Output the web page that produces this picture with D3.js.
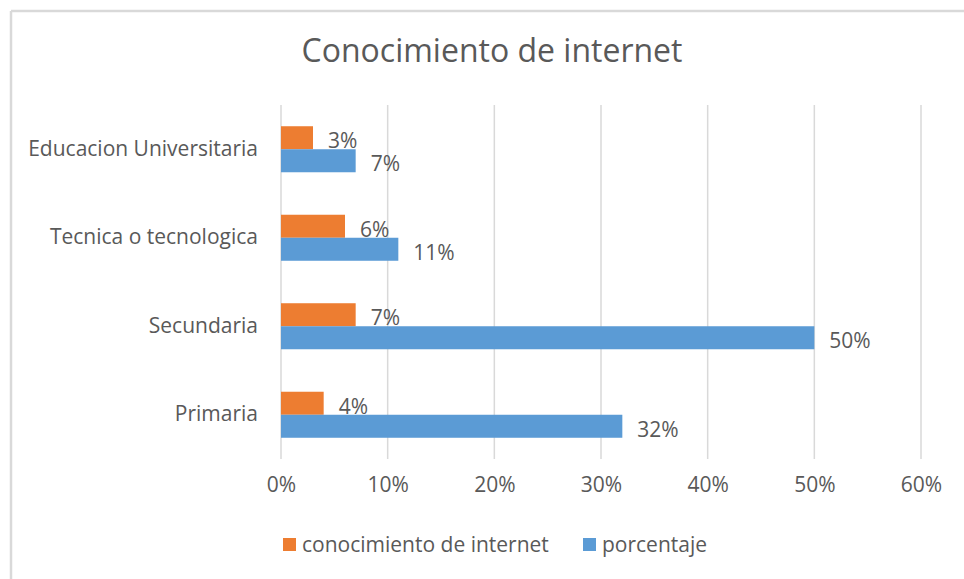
<!DOCTYPE html>
<html>
<head>
<meta charset="utf-8">
<script src="https://cdn.jsdelivr.net/npm/d3@7"></script>
<style>
	body { margin: 0; background: #fff; }
	text { font-family: "Open Sans", sans-serif; fill: #595959; }
</style>
</head>
<body>
<div class="chart"></div>
<script>
// data
var categories = ["Educacion Universitaria", "Tecnica o tecnologica", "Secundaria", "Primaria"];
var seriesNames = ["conocimiento de internet", "porcentaje"];
var conocimiento = [3, 6, 7, 4];
var porcentaje = [7, 11, 50, 32];
var xTicks = [0, 10, 20, 30, 40, 50, 60];
var colors = ["#ED7D31", "#5B9BD5"];

var width = 964,
	height = 579;
var margin = { top: 105, right: 43, bottom: 120, left: 281 };

var svg = d3.select(".chart").append("svg")
	.attr("width", width)
	.attr("height", height);

// chart border (left + top only visible)
svg.append("line").attr("x1", 11).attr("x2", 11).attr("y1", 11).attr("y2", height)
	.attr("stroke", "#d9d9d9").attr("stroke-width", 2.5);
svg.append("line").attr("x1", 11).attr("x2", width).attr("y1", 11).attr("y2", 11)
	.attr("stroke", "#d9d9d9").attr("stroke-width", 2.5);

// title
svg.append("text")
	.attr("x", 492)
	.attr("y", 62)
	.attr("text-anchor", "middle")
	.style("font-size", "32px")
	.text("Conocimiento de internet");

var xScale = d3.scaleLinear().domain([0, 60]).range([margin.left, width - margin.right]);
var yScale = d3.scaleBand().domain(categories).range([margin.top, height - margin.bottom]).paddingInner(0.48).paddingOuter(0.24);
var sub = d3.scaleBand().domain(seriesNames).range([0, yScale.bandwidth()]);

// grid
svg.selectAll(".grid")
	.data(xTicks)
	.enter()
	.append("line")
	.attr("class", "grid")
	.attr("x1", function (d) { return xScale(d); })
	.attr("x2", function (d) { return xScale(d); })
	.attr("y1", margin.top)
	.attr("y2", height - margin.bottom)
	.attr("stroke", "#d9d9d9")
	.attr("stroke-width", 1.5);

// x axis labels
var xAxis = d3.axisBottom(xScale).tickValues(xTicks).tickSize(0).tickPadding(0)
	.tickFormat(function (d) { return d + "%"; });
var gx = svg.append("g")
	.attr("transform", "translate(0," + (height - margin.bottom + 18) + ")")
	.call(xAxis);
gx.select(".domain").remove();
gx.selectAll("text").style("font-size", "21px").attr("fill", "#595959").style("font-family", "'Open Sans', sans-serif");

// y axis labels
var yAxis = d3.axisLeft(yScale).tickSize(0).tickPadding(23);
var gy = svg.append("g")
	.attr("transform", "translate(" + margin.left + ",0)")
	.call(yAxis);
gy.select(".domain").remove();
gy.selectAll("text").style("font-size", "21px").attr("fill", "#595959").style("font-family", "'Open Sans', sans-serif");

// bars
var series = [conocimiento, porcentaje];
series.forEach(function (values, s) {
	var rows = categories.map(function (c, i) { return { cat: c, value: values[i] }; });
	var g = svg.append("g");
	g.selectAll("rect")
		.data(rows)
		.enter()
		.append("rect")
		.attr("x", xScale(0))
		.attr("y", function (d) { return yScale(d.cat) + sub(seriesNames[s]); })
		.attr("width", function (d) { return xScale(d.value) - xScale(0); })
		.attr("height", sub.bandwidth())
		.attr("fill", colors[s]);

	g.selectAll("text")
		.data(rows)
		.enter()
		.append("text")
		.attr("x", function (d) { return xScale(d.value) + 15; })
		.attr("y", function (d) { return yScale(d.cat) + sub(seriesNames[s]) + sub.bandwidth() / 2 + 3; })
		.attr("dy", "0.35em")
		.style("font-size", "21px")
		.text(function (d) { return d.value + "%"; });
});

// legend
var legendX = [283, 583];
var legend = svg.selectAll(".legend")
	.data(seriesNames)
	.enter()
	.append("g")
	.attr("class", "legend")
	.attr("transform", function (d, i) { return "translate(" + legendX[i] + ",538)"; });
legend.append("rect")
	.attr("width", 13)
	.attr("height", 13)
	.attr("fill", function (d, i) { return colors[i]; });
legend.append("text")
	.attr("x", 19)
	.attr("y", 7)
	.attr("dy", "0.35em")
	.style("font-size", "21px")
	.text(function (d) { return d; });
</script>
</body>
</html>
